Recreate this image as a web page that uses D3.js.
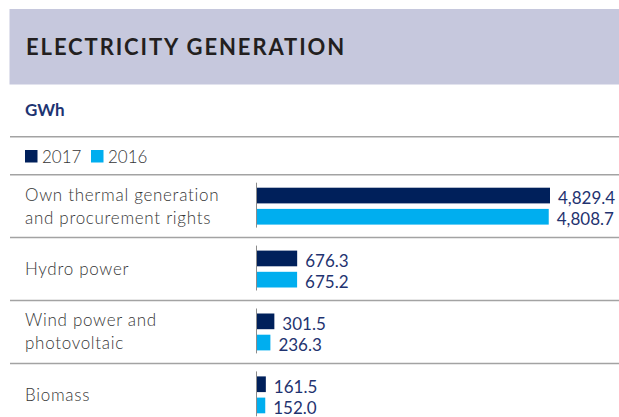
<!DOCTYPE html>
<html>
<head>
<meta charset="utf-8">
<script src="https://cdn.jsdelivr.net/npm/d3@7"></script>
<style>
  html, body { margin: 0; padding: 0; background: #fff; }
  svg { display: block; font-family: Lato, "Open Sans", sans-serif; }
  .rule { stroke: #a3a3a3; stroke-width: 1.5; }
  .axis-line { stroke: #8c8c8c; stroke-width: 1; }
  .cat-label { fill: #363636; font-size: 17px; font-weight: 300; letter-spacing: 0.7px; }
  .value-label { fill: #1f3370; font-size: 17px; }
  .legend-label { fill: #363636; font-size: 17px; font-weight: 300; }
</style>
</head>
<body>
<svg id="chart"></svg>
<script>
const WIDTH = 619;
const HEIGHT = 417;

const TITLE = "ELECTRICITY GENERATION";
const UNIT = "GWh";

const CATEGORIES = [
  ["Own thermal generation", "and procurement rights"],
  ["Hydro power"],
  ["Wind power and", "photovoltaic"],
  ["Biomass"]
];
const SERIES = ["2017", "2016"];
const VALUES_2017 = [4829.4, 676.3, 301.5, 161.5];
const VALUES_2016 = [4808.7, 675.2, 236.3, 152.0];

const COLORS = { "2017": "#00205b", "2016": "#00aeef" };

const svg = d3.select("#chart")
  .attr("width", WIDTH)
  .attr("height", HEIGHT);

// header band
svg.append("rect")
  .attr("x", 9.5)
  .attr("y", 9)
  .attr("width", WIDTH - 9.5)
  .attr("height", 75.5)
  .attr("fill", "#c6c8dd");

svg.append("text")
  .attr("x", 26)
  .attr("y", 55)
  .attr("fill", "#231f20")
  .style("font-size", "22px")
  .style("font-weight", 700)
  .style("letter-spacing", "1.9px")
  .text(TITLE);

svg.append("text")
  .attr("x", 25)
  .attr("y", 116)
  .attr("fill", "#1d3472")
  .style("font-size", "17px")
  .style("font-weight", 700)
  .text(UNIT);

svg.append("line")
  .attr("class", "rule")
  .attr("x1", 10).attr("x2", WIDTH)
  .attr("y1", 136.7).attr("y2", 136.7);

// legend
const legend = svg.append("g")
  .selectAll("g")
  .data(SERIES)
  .join("g")
  .attr("transform", (d, i) => `translate(${25 + i * 66},0)`);

legend.append("rect")
  .attr("x", 0)
  .attr("y", 150)
  .attr("width", 12.5)
  .attr("height", 12.5)
  .attr("fill", (d) => COLORS[d]);

legend.append("text")
  .attr("class", "legend-label")
  .attr("x", 17)
  .attr("y", 162.5)
  .text((d) => d);

svg.append("line")
  .attr("class", "rule")
  .attr("x1", 10).attr("x2", WIDTH)
  .attr("y1", 174.7).attr("y2", 174.7);

// bars
const rows = CATEGORIES.map((label, i) => ({
  key: label.join(" "),
  label,
  values: [
    { series: "2017", value: VALUES_2017[i] },
    { series: "2016", value: VALUES_2016[i] }
  ]
}));

const y = d3.scaleBand()
  .domain(rows.map((d) => d.key))
  .range([174.7, 174.7 + rows.length * 62.9]);

const yInner = d3.scaleBand()
  .domain(SERIES)
  .range([13, 13 + 15.7 * 2 + 5.5])
  .paddingInner(5.5 / 21.2);

const x = d3.scaleLinear()
  .domain([0, d3.max(VALUES_2017)])
  .range([256, 550]);

const fmt = d3.format(",.1f");

const group = svg.append("g")
  .selectAll("g")
  .data(rows)
  .join("g")
  .attr("transform", (d) => `translate(0,${y(d.key)})`);

group.append("line")
  .attr("class", "rule")
  .attr("x1", 10).attr("x2", WIDTH)
  .attr("y1", y.bandwidth()).attr("y2", y.bandwidth());

group.selectAll("rect")
  .data((d) => d.values)
  .join("rect")
  .attr("x", x(0))
  .attr("y", (d) => yInner(d.series))
  .attr("width", (d) => x(d.value) - x(0))
  .attr("height", yInner.bandwidth())
  .attr("fill", (d) => COLORS[d.series]);

group.append("line")
  .attr("class", "axis-line")
  .attr("x1", x(0) + 0.5).attr("x2", x(0) + 0.5)
  .attr("y1", yInner("2017") - 5)
  .attr("y2", yInner("2016") + yInner.bandwidth() + 3);

group.selectAll("text.value-label")
  .data((d) => d.values)
  .join("text")
  .attr("class", "value-label")
  .attr("x", (d) => x(d.value) + 8)
  .attr("y", (d) => yInner(d.series) + yInner.bandwidth() + 0.5)
  .text((d) => fmt(d.value));

const barCenter = (yInner("2017") + yInner("2016") + yInner.bandwidth()) / 2;

group.append("text")
  .attr("class", "cat-label")
  .each(function (d) {
    const lineHeight = 23;
    const start = barCenter - ((d.label.length - 1) * lineHeight) / 2;
    d3.select(this).selectAll("tspan")
      .data(d.label)
      .join("tspan")
      .attr("x", 25)
      .attr("y", (t, i) => start + i * lineHeight)
      .attr("dy", "0.35em")
      .text((t) => t);
  });
</script>
</body>
</html>
